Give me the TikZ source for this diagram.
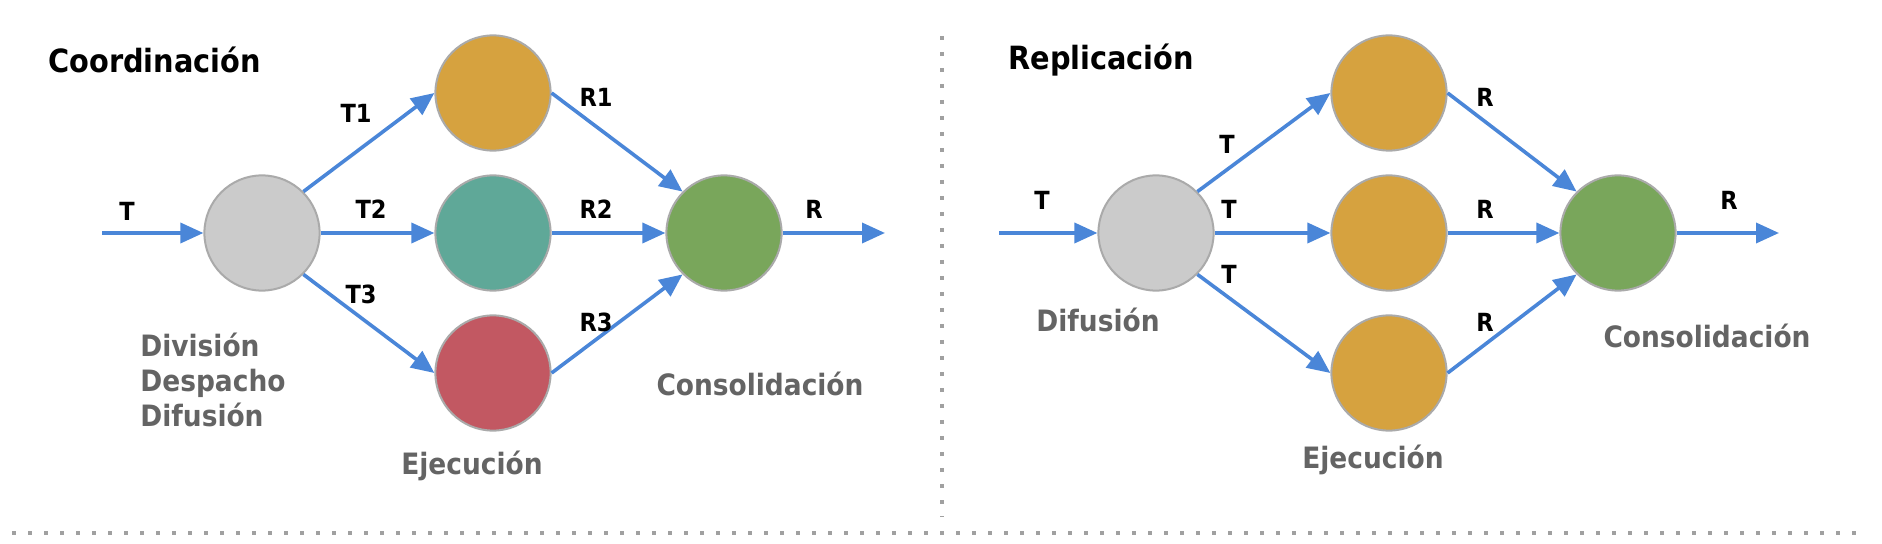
\documentclass[tikz,border=0pt]{standalone}
\usepackage{fontspec}
\setmainfont{DejaVu Sans Condensed}
\usetikzlibrary{arrows.meta}

\definecolor{flowblue}{HTML}{4A86D8}
\definecolor{ringgray}{HTML}{AAAAAA}
\definecolor{idlegray}{HTML}{CBCBCB}
\definecolor{taskorange}{HTML}{D6A23F}
\definecolor{taskteal}{HTML}{5FA898}
\definecolor{taskred}{HTML}{C25862}
\definecolor{mergegreen}{HTML}{79A65B}
\definecolor{rolegray}{HTML}{646464}
\definecolor{sepgray}{HTML}{A0A0A0}

\begin{document}
\begin{tikzpicture}[x=0.5pt, y=-0.5pt,
    proc/.style={circle, draw=ringgray, line width=1pt, minimum size=57.6pt, inner sep=0pt},
    flow/.style={flowblue, line width=1.8pt, -{Triangle[length=11.5pt, width=10pt]}},
    lbl/.style={font=\bfseries\fontsize{12.5}{14}\selectfont},
    title/.style={anchor=west, inner sep=0pt, font=\bfseries\fontsize{16}{18}\selectfont},
    role/.style={text=rolegray, font=\bfseries\fontsize{14.7}{17.5}\selectfont},
    sep/.style={sepgray, line width=2pt, dash pattern=on 2pt off 6pt}]
  \useasboundingbox (0, 0) rectangle (1882, 544);
  % separators
  \draw [sep] (942, 36) -- (942, 517);
  \draw [sep] (12, 533) -- (1858, 533);

  % coordination
  \node [title] (coordtitle) at (48, 60) {Coordinación};
  \node [proc, fill=idlegray] (split) at (262, 233) {};
  \node [proc, fill=taskorange] (work1) at (493, 93) {};
  \node [proc, fill=taskteal] (work2) at (493, 233) {};
  \node [proc, fill=taskred] (work3) at (493, 373) {};
  \node [proc, fill=mergegreen] (merge) at (724, 233) {};
  \coordinate (cin) at (102, 233);
  \coordinate (cout) at (885, 233);
  \draw [flow] (cin) -- (split);
  \draw [flow] (split.45) -- (work1.west);
  \draw [flow] (split) -- (work2);
  \draw [flow] (split.-45) -- (work3.west);
  \draw [flow] (work1.east) -- (merge.135);
  \draw [flow] (work2) -- (merge);
  \draw [flow] (work3.east) -- (merge.-135);
  \draw [flow] (merge) -- (cout);
  % edge labels
  \node [lbl] (lt) at (127, 211) {T};
  \node [lbl] (lt1) at (356, 113) {T1};
  \node [lbl] (lt2) at (371, 209) {T2};
  \node [lbl] (lt3) at (361, 294) {T3};
  \node [lbl] (lr1) at (596, 97) {R1};
  \node [lbl] (lr2) at (596, 209) {R2};
  \node [lbl] (lr3) at (596, 322) {R3};
  \node [lbl] (lr) at (814, 209) {R};
  % roles
  \node [role, anchor=west, align=left, inner sep=0pt] (splitroles) at (140, 380) {División\\Despacho\\Difusión};
  \node [role] (workrole) at (472, 466) {Ejecución};
  \node [role] (mergerole) at (760, 384) {Consolidación};

  % replication
  \node [title] (repltitle) at (1008, 60) {Replicación};
  \node [proc, fill=idlegray] (bcast) at (1156, 233) {};
  \node [proc, fill=taskorange] (copy1) at (1389, 93) {};
  \node [proc, fill=taskorange] (copy2) at (1389, 233) {};
  \node [proc, fill=taskorange] (copy3) at (1389, 373) {};
  \node [proc, fill=mergegreen] (vote) at (1618, 233) {};
  \coordinate (rin) at (999, 233);
  \coordinate (rout) at (1779, 233);
  \draw [flow] (rin) -- (bcast);
  \draw [flow] (bcast.45) -- (copy1.west);
  \draw [flow] (bcast) -- (copy2);
  \draw [flow] (bcast.-45) -- (copy3.west);
  \draw [flow] (copy1.east) -- (vote.135);
  \draw [flow] (copy2) -- (vote);
  \draw [flow] (copy3.east) -- (vote.-135);
  \draw [flow] (vote) -- (rout);
  % edge labels
  \node [lbl] (rt) at (1042, 200) {T};
  \node [lbl] (rt1) at (1227, 144) {T};
  \node [lbl] (rt2) at (1229, 209) {T};
  \node [lbl] (rt3) at (1229, 274) {T};
  \node [lbl] (rr1) at (1485, 97) {R};
  \node [lbl] (rr2) at (1485, 209) {R};
  \node [lbl] (rr3) at (1485, 322) {R};
  \node [lbl] (rr) at (1729, 200) {R};
  % roles
  \node [role] (bcastrole) at (1098, 320) {Difusión};
  \node [role] (copyrole) at (1373, 460) {Ejecución};
  \node [role] (voterole) at (1707, 336) {Consolidación};
\end{tikzpicture}
\end{document}
